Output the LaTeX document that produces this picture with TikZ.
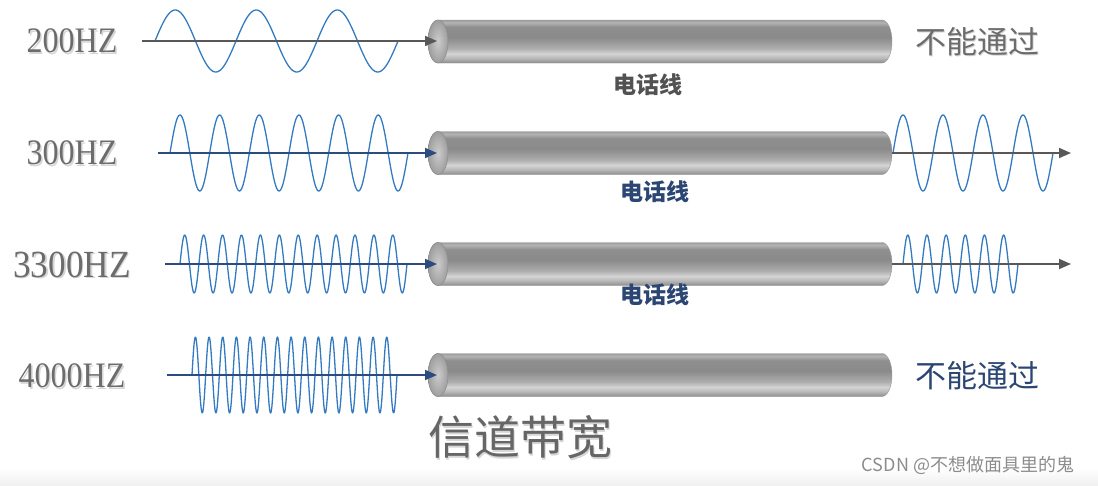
\documentclass[tikz,border=0pt]{standalone}
\usepackage{graphicx}
\usepackage{fontspec}
\setmainfont{Liberation Serif}
\newfontfamily\cjk{Noto Sans CJK SC}
\usetikzlibrary{arrows.meta}
\definecolor{wavec}{RGB}{52,122,192}
\definecolor{axgrey}{RGB}{88,88,88}
\definecolor{axblue}{RGB}{44,76,128}
\definecolor{lblgrey}{RGB}{108,108,108}
\definecolor{navyc}{RGB}{44,70,115}
\pgfdeclareverticalshading{cylbody}{100bp}{%
 color(0bp)=(black!45); color(25bp)=(black!45); color(31bp)=(black!27);
 color(36bp)=(black!17); color(42bp)=(black!32); color(55bp)=(black!46);
 color(67bp)=(black!44); color(72bp)=(black!30); color(75bp)=(black!38);
 color(100bp)=(black!38)}
\newcommand\mycyl[1]{%
 \shade[shading=cylbody,draw=black!42,line width=0.4pt]
   (438,#1-21.5) -- (882,#1-21.5)
   arc[start angle=-90,end angle=90,x radius=10,y radius=21.5]
   -- (438,#1+21.5)
   arc[start angle=90,end angle=270,x radius=10,y radius=21.5] -- cycle;
 \shade[inner color=black!20,outer color=black!38,draw=black!45,line width=0.5pt]
   (438,#1) ellipse[x radius=10,y radius=21.5];}
% text with a light drop shadow, in one box
\newcommand\embtext[2]{\rlap{\kern1.5pt\raisebox{-1.5pt}{\textcolor{black!16}{#2}}}\textcolor{#1}{#2}}
\begin{document}
\begin{tikzpicture}[x=1pt,y=-1pt,
  wavel/.style={wavec,line width=1.3pt,line join=round},
  axg/.style={axgrey,line width=1.8pt,-{Triangle[length=12pt,width=10pt]}},
  axb/.style={axblue,line width=1.8pt,-{Triangle[length=12pt,width=10pt]}},
  lbl/.style={inner sep=0pt,font=\fontsize{32}{34}\selectfont},
  cn/.style={inner sep=0pt,font=\cjk\fontsize{31}{34}\selectfont},
  tel/.style={inner sep=0pt,font=\cjk\bfseries\fontsize{23}{25}\selectfont}]
\useasboundingbox (0,0) rectangle (1098,485);
\shade[top color=white,bottom color=black!6] (0,468) rectangle (1098,485);
% cylinders
\mycyl{41.5}
\mycyl{153}
\mycyl{264}
\mycyl{375}
% coordinates
\coordinate (a1) at (142,41);  \coordinate (b1) at (437,41);
\coordinate (a2) at (158,153); \coordinate (b2) at (437,153);
\coordinate (a3) at (165,264); \coordinate (b3) at (437,264);
\coordinate (a4) at (167,375); \coordinate (b4) at (437,375);
\coordinate (r2) at (892,153); \coordinate (e2) at (1071,153);
\coordinate (r3) at (892,264); \coordinate (e3) at (1071,264);
% waves
\draw[wavel] plot[domain=155:398,samples=240] (\x,{41-31*sin((\x-155)/81*360)});
\draw[wavel] plot[domain=170:408,samples=300] (\x,{153-38*sin((\x-170)/39.667*360)});
\draw[wavel] plot[domain=893:1053,samples=220] (\x,{153-38*sin((\x-893)/40*360)});
\draw[wavel] plot[domain=180:407,samples=400] (\x,{264-29*sin((\x-180)/18.917*360)});
\draw[wavel] plot[domain=903:1018,samples=220] (\x,{264-29*sin((\x-903)/19.167*360)});
\draw[wavel] plot[domain=192:397,samples=450] (\x,{375-38*sin((\x-192)/13.667*360)});
% axes
\draw[axg] (a1) -- (b1);
\draw[axb] (a2) -- (b2);
\draw[axb] (a3) -- (b3);
\draw[axb] (a4) -- (b4);
\draw[axg] (r2) -- (e2);
\draw[axg] (r3) -- (e3);
% frequency labels
\node[lbl] (l1) at (72,42) {\scalebox{1}[1.12]{\embtext{lblgrey}{200HZ}}};
\node[lbl] (l2) at (72,154) {\scalebox{1}[1.12]{\embtext{lblgrey}{300HZ}}};
\node[lbl] (l3) at (72,265.5) {\scalebox{1.1}[1.2]{\embtext{lblgrey}{3300HZ}}};
\node[lbl] (l4) at (72,377) {\scalebox{1}[1.12]{\embtext{lblgrey}{4000HZ}}};
% cable labels
\node[tel,text=black!68] (t1) at (648,85) {电话线};
\node[tel,text=navyc] (t2) at (655,192) {电话线};
\node[tel,text=navyc] (t3) at (655,295) {电话线};
% result labels
\node[cn] (n1) at (977,42) {\embtext{lblgrey}{不能通过}};
\node[cn,text=navyc] (n4) at (977,376) {不能通过};
% title
\node[inner sep=0pt,font=\cjk\fontsize{46}{50}\selectfont] (tt) at (520,438) {\embtext{black!60}{信道带宽}};
% watermark
\node[inner sep=0pt,text=black!45,font=\cjk\fontsize{18}{20}\selectfont] (wm) at (968,465) {CSDN @不想做面具里的鬼};
\end{tikzpicture}
\end{document}
